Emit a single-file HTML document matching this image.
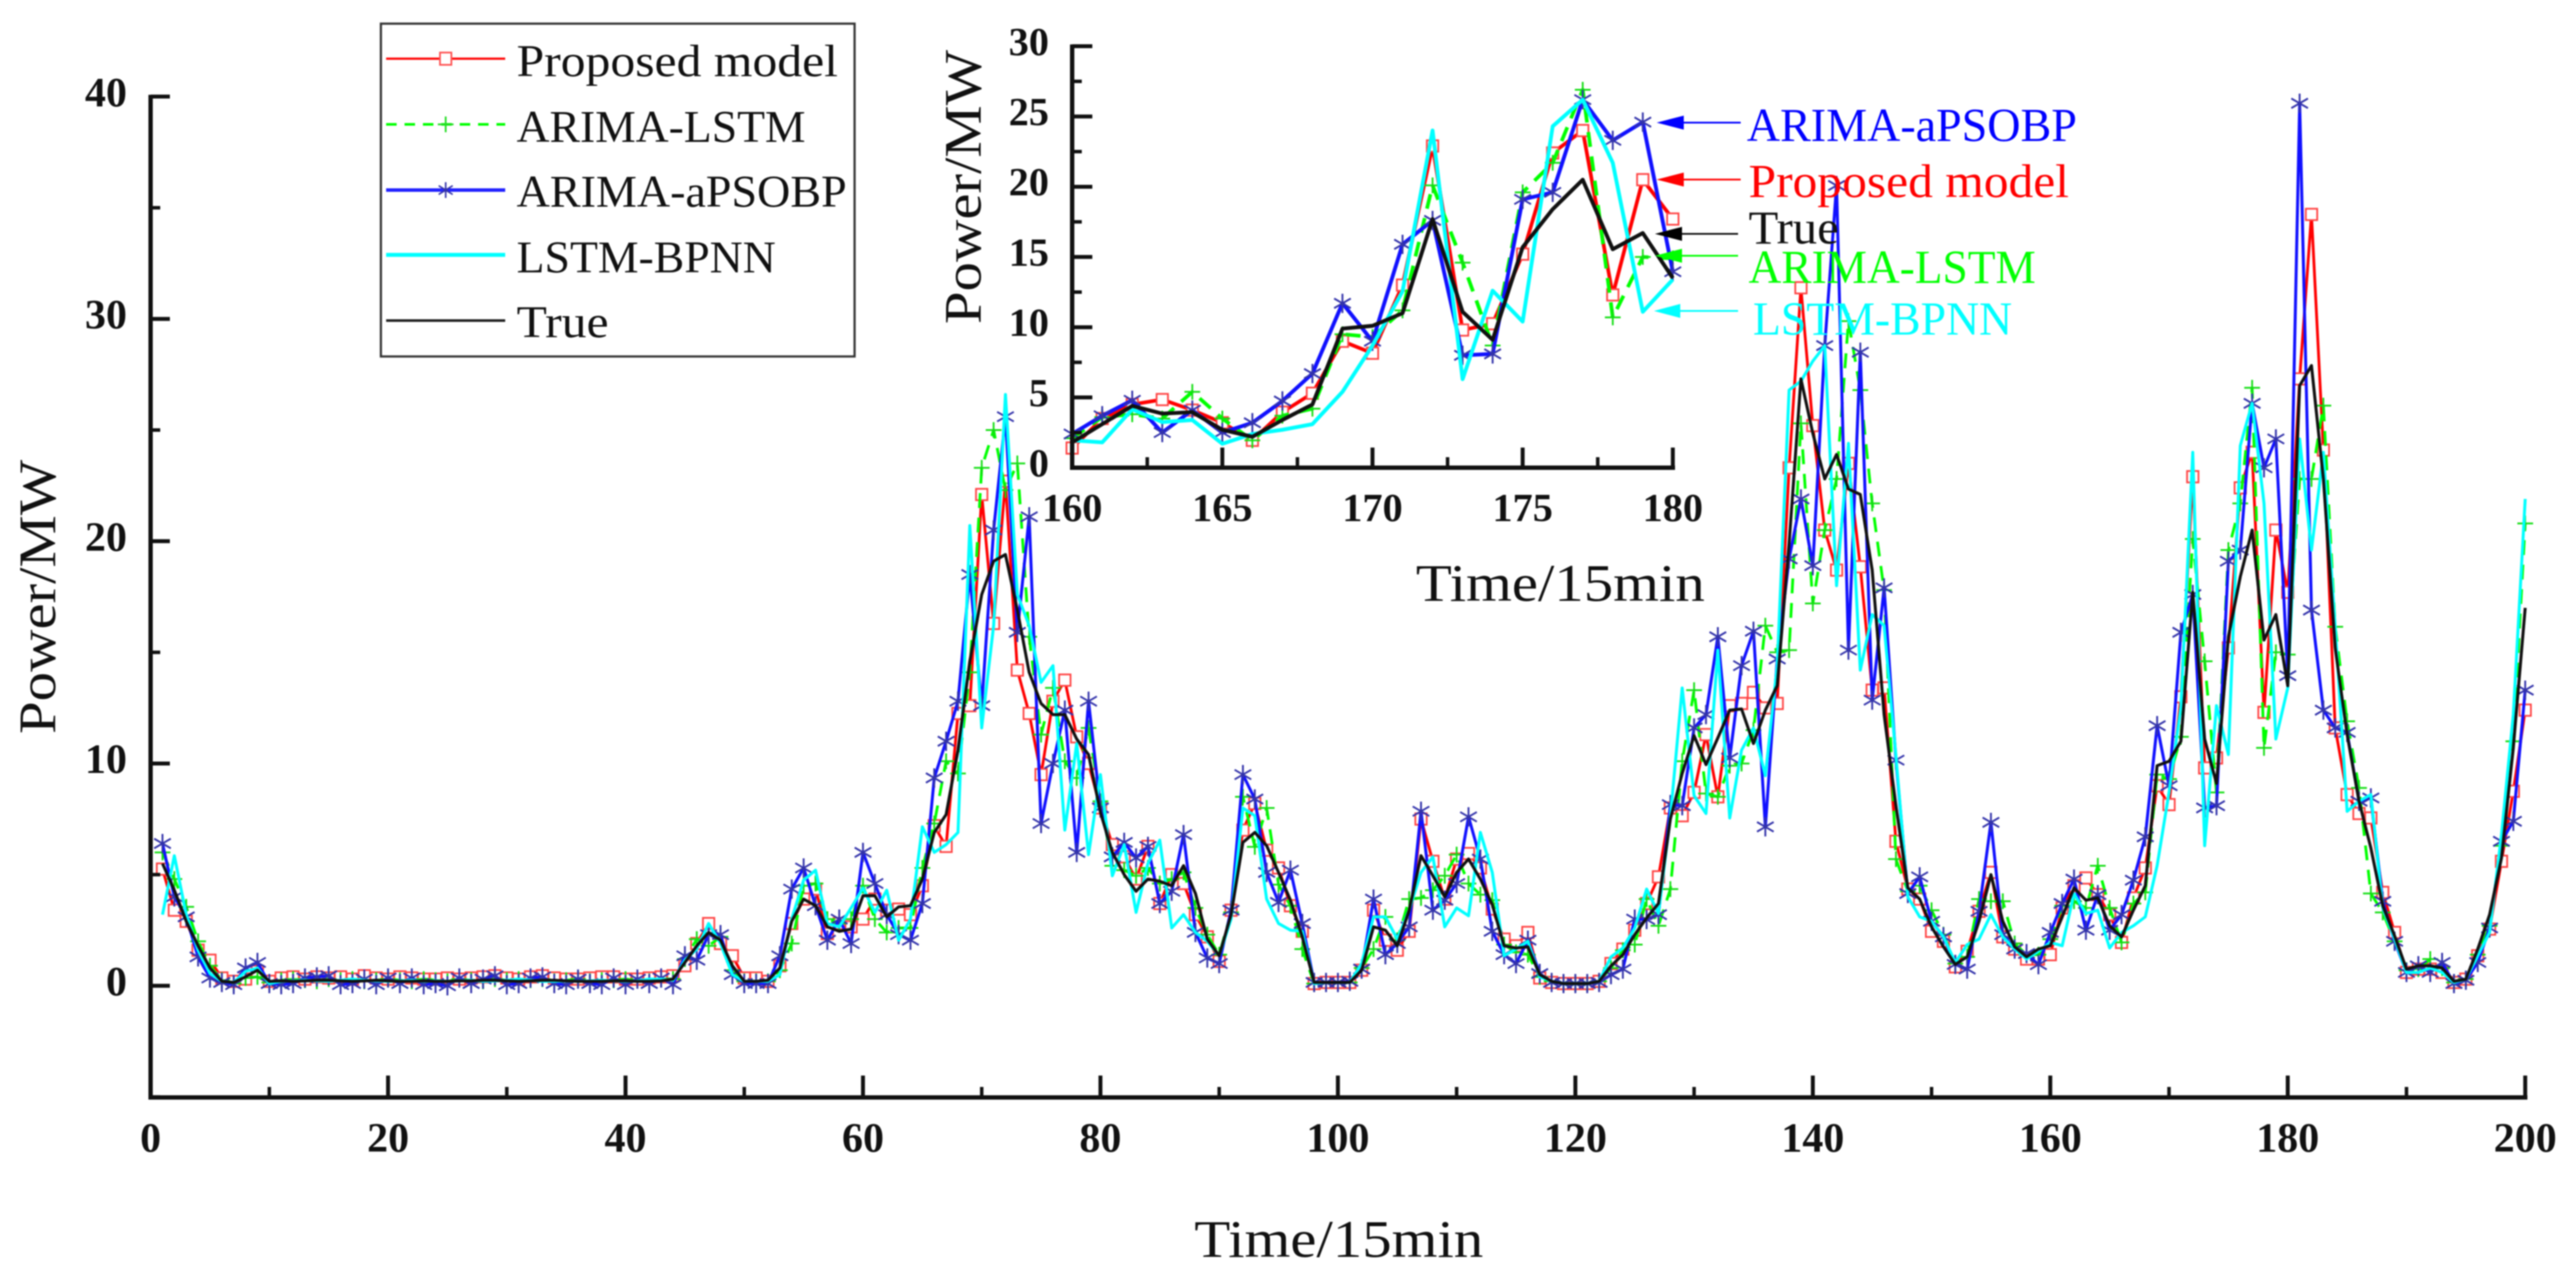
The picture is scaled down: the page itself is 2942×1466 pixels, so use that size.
<!DOCTYPE html>
<html lang="en">
<head>
<meta charset="utf-8">
<title>Power forecast comparison</title>
<style>
html,body{margin:0;padding:0;background:#fff;}
svg{display:block;filter:blur(0.8px);}
text{font-family:"Liberation Serif",serif;}
.tick{font-weight:bold;fill:#111;}
</style>
</head>
<body>
<svg id="chart" xmlns="http://www.w3.org/2000/svg" width="2942" height="1466" viewBox="0 0 2942 1466">
  <rect x="0" y="0" width="2942" height="1466" fill="#fff"/>
  <g id="main-plot"></g>
  <g id="main-axes"></g>
  <text transform="translate(63,838) rotate(-90)" font-size="60" textLength="313" lengthAdjust="spacingAndGlyphs" fill="#111">Power/MW</text>
  <text x="1364" y="1435" font-size="60" textLength="330" lengthAdjust="spacingAndGlyphs" fill="#111">Time/15min</text>

  <g>
    <rect x="435" y="27" width="541" height="380" fill="#fff" stroke="#333" stroke-width="2.5"/>
    <g>
      <line x1="441" y1="67" x2="577" y2="67" stroke="#f00" stroke-width="2.5"/>
      <rect x="502.5" y="60" width="13" height="14" fill="#fff" stroke="#f55" stroke-width="2"/>
      <text x="590" y="87" font-size="52" textLength="367" lengthAdjust="spacingAndGlyphs" fill="#111">Proposed model</text>
    </g>
    <g>
      <line x1="441" y1="142" x2="577" y2="142" stroke="#0f0" stroke-width="3" stroke-dasharray="12 9"/>
      <path d="M509 133V151M500 142H518" stroke="#2d2" stroke-width="2" fill="none"/>
      <text x="590" y="162" font-size="52" textLength="330" lengthAdjust="spacingAndGlyphs" fill="#111">ARIMA-LSTM</text>
    </g>
    <g>
      <line x1="441" y1="217" x2="577" y2="217" stroke="#22f" stroke-width="4"/>
      <path d="M509 208V226M501 212L517 222M501 222L517 212" stroke="#33a" stroke-width="1.8" fill="none"/>
      <text x="590" y="236" font-size="52" textLength="377" lengthAdjust="spacingAndGlyphs" fill="#111">ARIMA-aPSOBP</text>
    </g>
    <g>
      <line x1="441" y1="291" x2="577" y2="291" stroke="#0ff" stroke-width="4.5"/>
      <text x="590" y="311" font-size="52" textLength="296" lengthAdjust="spacingAndGlyphs" fill="#111">LSTM-BPNN</text>
    </g>
    <g>
      <line x1="441" y1="366" x2="577" y2="366" stroke="#222" stroke-width="3"/>
      <text x="590" y="385" font-size="52" textLength="105" lengthAdjust="spacingAndGlyphs" fill="#111">True</text>
    </g>
  </g>

  <g id="inset-plot"></g>
  <g id="inset-axes"></g>
  <text transform="translate(1120,370) rotate(-90)" font-size="60" textLength="313" lengthAdjust="spacingAndGlyphs" fill="#111">Power/MW</text>
  <text x="1617" y="686" font-size="60" textLength="330" lengthAdjust="spacingAndGlyphs" fill="#111">Time/15min</text>

  <g>
    <line x1="1920" y1="140" x2="1988" y2="140" stroke="#00f" stroke-width="2"/>
    <polygon points="1892,140 1923,132 1923,148" fill="#00f"/>
    <text x="1995" y="161" font-size="54" textLength="377" lengthAdjust="spacingAndGlyphs" fill="#00f">ARIMA-aPSOBP</text>
  </g>
  <g>
    <line x1="1920" y1="205" x2="1988" y2="205" stroke="#f00" stroke-width="2"/>
    <polygon points="1892,205 1923,197 1923,213" fill="#f00"/>
    <text x="1997" y="225" font-size="54" textLength="366" lengthAdjust="spacingAndGlyphs" fill="#f00">Proposed model</text>
  </g>
  <g>
    <line x1="1918" y1="267" x2="1985" y2="267" stroke="#111" stroke-width="2"/>
    <polygon points="1890,267 1921,259 1921,275" fill="#000"/>
    <text x="1997" y="278" font-size="54" textLength="103" lengthAdjust="spacingAndGlyphs" fill="#111">True</text>
  </g>
  <g>
    <line x1="1918" y1="292" x2="1985" y2="292" stroke="#0f0" stroke-width="2"/>
    <polygon points="1890,292 1921,284 1921,300" fill="#0f0"/>
    <text x="1997" y="323" font-size="54" textLength="328" lengthAdjust="spacingAndGlyphs" fill="#0f0">ARIMA-LSTM</text>
  </g>
  <g>
    <line x1="1916" y1="355" x2="1985" y2="355" stroke="#0ff" stroke-width="2"/>
    <polygon points="1889,355 1919,347 1919,363" fill="#0ff"/>
    <text x="2002" y="382" font-size="54" textLength="296" lengthAdjust="spacingAndGlyphs" fill="#0ff">LSTM-BPNN</text>
  </g>
</svg>

<script>
const proposedValues = [
5.25,3.4,2.9,1.6,1.15,.35,.2,.3,.65,.2,
.35,.4,.3,.4,.35,.4,.3,.45,.35,.3,
.4,.35,.3,.3,.35,.3,.35,.4,.45,.35,
.3,.4,.45,.35,.3,.3,.35,.4,.4,.3,
.3,.35,.4,.45,.9,1.9,2.8,1.9,1.35,.35,
.35,.2,.9,2.8,3.9,4.35,2.35,2.8,2.65,3,
3.9,3.4,3.45,3.2,4.5,7.2,6.27,12.25,12.6,22.1,
16.3,22.7,14.2,12.25,9.5,12.8,13.75,11.2,10,8,
6.35,5.8,4.8,6.27,3.7,5,4.6,3.2,2.2,1.1,
3.4,7,8.2,6.1,5.3,3.6,2.45,.1,.15,.15,
.15,.7,3.4,2.05,1.6,2.45,7.5,5.6,3.9,5.7,
5.95,5.3,3.45,2.1,1.8,2.4,.35,.15,.1,.1,
.1,.2,1,1.65,2.5,3.7,4.9,8,7.65,8.7,
11.3,8.5,12.6,12.7,13.2,12.5,12.7,23.3,31.4,25.2,
20.5,18.7,23.5,18.85,13.3,13.4,6.5,4.35,3.9,2.45,
2,.85,1.55,3.35,5.1,2.2,1.65,1.2,1.2,1.4,
3.5,4.5,4.85,4.1,3.2,1.95,3.95,5.3,9,8.15,
13,22.9,9.8,10.25,15.2,22.4,24,12.3,20.5,17.7,
27.3,34.7,24.1,11.6,8.6,7.75,7.55,4.2,2.4,.6,
.75,.75,.6,.15,.3,1.35,2.55,5.6,8.75,12.4];

const arimaLstmValues = [
6,4.8,3.55,2,.9,.25,.1,.35,.4,.15,
.25,.3,.25,.2,.3,.25,.3,.2,.25,.3,
.25,.2,.3,.25,.2,.3,.25,.2,.3,.25,
.3,.25,.3,.2,.25,.3,.2,.25,.25,.3,
.25,.2,.3,.3,1.2,2.1,1.8,2.2,.7,.2,
.2,.2,.7,1.9,4.5,4.6,3,2.8,3,4.5,
3,2.4,2.6,2.6,5.3,7.3,10.1,9.55,14.1,23.3,
25,22.3,23.5,15.7,11.3,13.4,10.1,9.35,11.6,8.3,
5.4,5.2,4.95,5.3,4.6,4.8,5.1,3.5,2.3,1.4,
3.3,8.5,6.25,8,4.55,3.6,1.65,.1,.15,.15,
.15,.8,1.65,3.1,2.05,3.9,3.95,4.3,4.95,5.9,
4.6,4.1,3.85,1.85,1.5,1.4,.4,.2,.1,.1,
.1,.2,.8,1.6,1.85,3.9,2.7,4.35,10.1,13.3,
8.65,8.5,9.9,10,11.5,16.2,15,15.1,25.3,17.2,
20.5,22.8,29.9,26.8,21.7,17.8,5.7,4.25,4.5,3.4,
2.3,1,1.3,3.9,3.8,3.8,1.9,1.4,1.4,2.1,
3.6,3.8,3.5,5.4,3.5,1.95,3.7,4.2,9.5,9.3,
11.2,20.1,14.6,8.7,19.6,21.7,26.9,10.7,15,14.9,
22.8,22.8,26.1,16.15,11.9,8.9,4.15,3.3,2,.7,
.75,1.2,.8,.15,.3,1.4,2.7,6.3,11,20.8];

const arimaApsobpValues = [
6.4,4,3.1,1.3,.35,.15,.05,.8,1.05,.1,
.05,.1,.35,.4,.45,.05,.1,.3,.05,.35,
.1,.35,.05,.1,0,.35,.1,.3,.45,.05,
.1,.35,.4,.1,.05,.3,.1,.05,.35,.05,
.3,.1,.35,.05,1.35,1.15,2.3,2.3,.5,.1,
.1,.1,1.35,4.35,5.3,3.6,2.05,3,1.9,6,
4.6,3.2,2.3,2.05,3.7,9.35,11,12.8,18.5,12.6,
20.5,25.6,15.9,21.1,7.3,10,12.4,6,12.8,8,
5.8,6.45,5.75,6.27,3.7,4.25,6.8,2.4,1.25,1,
3.4,9.5,8.4,5.1,3.75,5.2,2.8,.15,.15,.15,
.2,.75,3.9,1.4,1.9,2.65,7.85,3.4,3.85,4.6,
7.6,5.7,2.45,1.4,1,2.05,.55,.15,.1,.1,
.1,.15,.5,.75,3,2.98,3.2,8.15,8.1,11.6,
12.2,15.7,10.25,14.4,15.95,7.15,14.7,19.2,21.9,18.9,
28.8,36,15.1,28.5,12.85,17.9,10.15,4.15,4.9,2.9,
2.2,.96,.75,3.35,7.35,2.3,1.65,1.45,.95,2.4,
3.7,4.8,2.5,4.1,2.5,3.2,4.75,6.7,11.7,9,
15.9,17.6,8,8.1,19.1,19.6,26.2,23.3,24.6,13.95,
39.7,16.9,12.4,11.6,11.4,8.3,8.45,3.8,2,.6,
.9,.6,1.05,.1,.25,1.05,2.6,6.5,7.4,13.3];

const lstmBpnnValues = [
3.2,5.85,3.2,1.6,.55,.2,.15,.65,.8,.1,
.2,.22,.25,.22,.2,.25,.3,.25,.22,.2,
.22,.25,.2,.22,.2,.22,.25,.2,.22,.25,
.3,.25,.2,.2,.22,.2,.22,.25,.22,.2,
.22,.3,.3,.25,1.15,1.65,2.8,1.9,.5,.2,
.2,.2,.5,3,4.75,5.2,2.8,2.65,3.5,4.4,
3.3,4.3,2.05,3,7.15,6,6.35,6.9,20.7,11.6,
16.2,26.6,17.6,16.2,13.65,14.4,7,10.9,5.9,9.5,
4.95,6.35,3.3,5.5,6.55,2.6,3.2,2.4,2,1.35,
3,8,7.65,3.9,2.8,2.5,2.45,.1,.15,.15,
.15,1,3.1,3.1,2.1,3.4,5.1,5.8,2.65,3.5,
3.15,6.9,5.1,1.35,1.65,2,.4,.2,.1,.1,
.1,.2,1.3,1.7,2.6,4.35,3.25,7.6,13.4,8.55,
7.75,15.1,7.55,10.6,11.6,9.45,14.4,26.8,27.2,28.1,
28.8,18,24.4,14.2,16.7,16.2,10.35,4,3.1,2.9,
2.2,1.05,1.85,2.1,3.2,2.2,1.65,1.2,1.55,1.95,
1.8,4.15,3.25,3.4,1.7,2.4,2.7,3.1,5.4,8.7,
12.55,24,6.3,12.6,10.4,24.3,26.2,21.7,11.1,13.4,
24.6,19.6,24,16.15,7.85,8.3,8.6,3.5,2.1,.6,
.6,.8,.6,.15,.3,1.35,2.4,6.8,12.2,21.9];

const trueValues = [
5.5,4.3,2.9,1.8,.8,.2,.15,.4,.7,.2,
.22,.2,.22,.25,.25,.22,.2,.22,.25,.22,
.2,.2,.22,.2,.2,.22,.22,.25,.25,.22,
.2,.22,.25,.25,.22,.2,.2,.2,.22,.22,
.2,.2,.22,.3,1.05,1.8,2.4,2.05,.9,.2,
.2,.25,.8,2.9,3.9,3.6,2.65,2.45,2.55,4.05,
4.05,3.1,3.55,3.6,4.8,6.9,7.7,10.6,14.6,17.6,
19.1,19.4,16.9,14.1,12.7,12.2,12.2,11.1,10.4,7.8,
6,5,4.25,4.8,4.7,4.5,5.4,4.15,2.1,1.35,
3.2,6.45,6.9,6.3,5.1,3.85,2.2,.15,.15,.15,
.15,.7,2.65,2.5,1.8,3.4,5.85,4.95,4,5.1,
5.7,4.8,3.65,1.8,1.7,1.75,.5,.2,.1,.1,
.1,.2,.9,1.4,2.3,3.05,3.7,7.5,9.55,11.25,
9.95,11.15,12.4,12.45,10.9,12.4,13.5,19.9,27.3,24.85,
22.8,23.9,22.35,22.1,18.7,12.2,8.1,4.4,3.9,2.65,
1.75,.96,1.3,2.9,5,2.9,1.75,1.3,1.65,1.8,
3.1,4.4,3.85,3.95,2.7,2.2,3.4,4.5,9.9,10.1,
11,17.7,11.1,9.1,15.7,18.4,20.5,15.55,16.7,13.5,
27,27.9,22.8,15.2,11.3,8.3,6.2,3.6,2.25,.75,
.9,.9,.8,.2,.3,1.65,3.2,5.75,10.7,17];

const mainXMajorTicks = [0,20,40,60,80,100,120,140,160,180,200];
const mainXMinorTicks = [10,30,50,70,90,110,130,150,170,190];
const mainYMajorTicks = [0,10,20,30,40];
const mainYMinorTicks = [-5,5,15,25,35];
const insetXMajorTicks = [160,165,170,175,180];
const insetXMinorTicks = [162.5,167.5,172.5,177.5];
const insetYMajorTicks = [0,5,10,15,20,25,30];
const insetYMinorTicks = [2.5,7.5,12.5,17.5,22.5,27.5];

const SVGNS = 'http://www.w3.org/2000/svg';

function mainX(t){ return 172 + 13.56 * t; }
function mainY(v){ return 1125.5 - 25.38 * v; }
function insetX(t){ return 1224.5 + 34.3 * (t - 160); }
function insetY(v){ return 534 - 16.04 * v; }

function make(tag, parent, attrs){
  const el = document.createElementNS(SVGNS, tag);
  for (const k in attrs) el.setAttribute(k, attrs[k]);
  parent.appendChild(el);
  return el;
}

function markerPath(kind, x, y){
  if (kind === 'plus') {
    const r = 9;
    return 'M' + x + ' ' + (y - r) + 'V' + (y + r) + 'M' + (x - r) + ' ' + y + 'H' + (x + r);
  }
  const r = 11, dx = 9.5, dy = 5.5;
  return 'M' + x + ' ' + (y - r) + 'V' + (y + r) +
    'M' + (x - dx) + ' ' + (y - dy) + 'L' + (x + dx) + ' ' + (y + dy) +
    'M' + (x - dx) + ' ' + (y + dy) + 'L' + (x + dx) + ' ' + (y - dy);
}

function drawSeries(parent, prefix, key, values, style, fx, fy, from, to, lineWidth){
  const pts = [];
  for (let i = 0; i < values.length; i++) {
    const t = i + 1;
    if (t < from || t > to) continue;
    pts.push([fx(t), fy(values[i])]);
  }
  const line = make('polyline', parent, {
    points: pts.map(function(p){ return p[0].toFixed(1) + ',' + p[1].toFixed(1); }).join(' '),
    fill: 'none',
    stroke: style.color,
    'stroke-width': lineWidth,
    'stroke-linejoin': 'round'
  });
  
  
  if (style.dash) line.setAttribute('stroke-dasharray', style.dash);
  if (!style.marker) return;
  pts.forEach(function(p){
    let m;
    if (style.marker === 'square') {
      m = make('rect', parent, {
        x: p[0] - 6.5, y: p[1] - 6.5, width: 13, height: 13,
        fill: '#fff', stroke: '#f44', 'stroke-width': 2
      });
    } else {
      m = make('path', parent, {
        d: markerPath(style.marker, p[0], p[1]),
        fill: 'none', stroke: style.markerColor, 'stroke-width': style.markerWidth
      });
    }
    
    
  });
}

const styleProposed = { color:'#f00', marker:'square' };
const styleLstm = { color:'#0f0', dash:'17 11', marker:'plus', markerColor:'#1d1', markerWidth:2 };
const styleBlue = { color:'#11f', marker:'star', markerColor:'#33a', markerWidth:2.1 };
const styleCyan = { color:'#0ff' };
const styleTrue = { color:'#111' };

function drawAll(parent, prefix, fx, fy, from, to, w){
  drawSeries(parent, prefix, 'proposed-model', proposedValues, styleProposed, fx, fy, from, to, w);
  drawSeries(parent, prefix, 'arima-lstm', arimaLstmValues, styleLstm, fx, fy, from, to, w);
  drawSeries(parent, prefix, 'arima-apsobp', arimaApsobpValues, styleBlue, fx, fy, from, to, w + 0.2);
  drawSeries(parent, prefix, 'lstm-bpnn', lstmBpnnValues, styleCyan, fx, fy, from, to, w + 0.2);
  drawSeries(parent, prefix, 'true', trueValues, styleTrue, fx, fy, from, to, w + 0.2);
}

function drawAxes(g, prefix, cfg){
  const x0 = cfg.fx(cfg.xMin), x1 = cfg.fx(cfg.xMax);
  const yBottom = cfg.yBottom, yTop = cfg.fy(cfg.yMax);
  const yAxis = make('line', g, { x1:x0, y1:yTop - 2, x2:x0, y2:yBottom + 2.5, stroke:'#111', 'stroke-width':5 });
  
  
  const xAxis = make('line', g, { x1:x0 - 2.5, y1:yBottom, x2:x1 + 2.5, y2:yBottom, stroke:'#111', 'stroke-width':5 });
  
  

  cfg.xMajor.forEach(function(t){
    const tick = make('line', g, { x1:cfg.fx(t), y1:yBottom, x2:cfg.fx(t), y2:yBottom - cfg.xMajorLen, stroke:'#111', 'stroke-width':4.5 });
    
    
    const label = make('text', g, { x:cfg.fx(t), y:cfg.xLabelY, 'font-size':cfg.fontSize, 'text-anchor':'middle', class:'tick' });
    label.textContent = String(t);
    
    
  });
  cfg.xMinor.forEach(function(t){
    const tick = make('line', g, { x1:cfg.fx(t), y1:yBottom, x2:cfg.fx(t), y2:yBottom - cfg.xMinorLen, stroke:'#111', 'stroke-width':4 });
    
    
  });
  cfg.yMajor.forEach(function(v){
    const tick = make('line', g, { x1:x0, y1:cfg.fy(v), x2:x0 + cfg.yMajorLen, y2:cfg.fy(v), stroke:'#111', 'stroke-width':4.5 });
    
    
    const label = make('text', g, { x:cfg.yLabelX, y:cfg.fy(v) + cfg.yLabelDy, 'font-size':cfg.fontSize, 'text-anchor':'end', class:'tick' });
    label.textContent = String(v);
    
    
  });
  cfg.yMinor.forEach(function(v){
    const tick = make('line', g, { x1:x0, y1:cfg.fy(v), x2:x0 + cfg.yMinorLen, y2:cfg.fy(v), stroke:'#111', 'stroke-width':4 });
    
    
  });
}

drawAll(document.getElementById('main-plot'), 'main', mainX, mainY, 1, 200, 3.2);
drawAxes(document.getElementById('main-axes'), 'main', {
  fx: mainX, fy: mainY, xMin: 0, xMax: 200, yMax: 40, yBottom: 1253,
  xMajor: mainXMajorTicks, xMinor: mainXMinorTicks, yMajor: mainYMajorTicks, yMinor: mainYMinorTicks,
  xMajorLen: 25, xMinorLen: 12, yMajorLen: 22, yMinorLen: 11,
  xLabelY: 1315, yLabelX: 145, yLabelDy: 11, fontSize: 48
});

drawAll(document.getElementById('inset-plot'), 'inset', insetX, insetY, 160, 180, 4.2);
drawAxes(document.getElementById('inset-axes'), 'inset', {
  fx: insetX, fy: insetY, xMin: 160, xMax: 180, yMax: 30, yBottom: 534,
  xMajor: insetXMajorTicks, xMinor: insetXMinorTicks, yMajor: insetYMajorTicks, yMinor: insetYMinorTicks,
  xMajorLen: 23, xMinorLen: 12, yMajorLen: 23, yMinorLen: 11,
  xLabelY: 595, yLabelX: 1198, yLabelDy: 10, fontSize: 46
});
</script>
</body>
</html>
